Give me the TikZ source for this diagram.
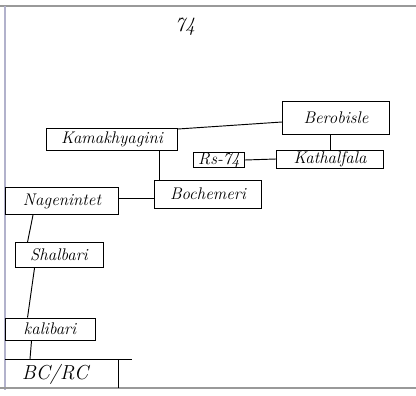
\documentclass[tikz,border=0pt]{standalone}
\usepackage{tikz}

\tikzset{
  place/.style={draw, thick, inner sep=0pt, font=\Large\itshape},
  link/.style={thick},
}

\begin{document}
\begin{tikzpicture}[x=0.03cm,y=-0.03cm]
  \useasboundingbox (0,0) rectangle (416,396);
  % frame of the sheet
  \draw[gray!80, line width=1.5pt] (0,6) -- (416,6);
  \draw[blue!20!gray!50, line width=1.5pt] (5,6) -- (5,390);
  \draw[gray!80, line width=1.5pt] (0,388) -- (416,388);
  \node[font=\LARGE\itshape] (title) at (185,27) {74};

  \node[place, minimum width=3.93cm, minimum height=0.66cm] (kama) at (112,139) {Kamakhyagini};
  \node[place, minimum width=3.21cm, minimum height=0.99cm] (bero) at (336,118) {Berobisle};
  \node[place, minimum width=3.21cm, minimum height=0.54cm] (kath) at (330,159) {Kathalfala};
  \node[place, minimum width=1.53cm, minimum height=0.45cm] (rs) at (219,160) {Rs-74};
  \node[place, minimum width=3.21cm, minimum height=0.84cm] (boch) at (208,194) {Bochemeri};
  \node[place, minimum width=3.39cm, minimum height=0.81cm] (nag) at (62,201) {Nagenintet};
  \node[place, minimum width=2.64cm, minimum height=0.75cm] (shal) at (59,255) {Shalbari};
  \node[place, minimum width=2.7cm, minimum height=0.66cm] (kali) at (50,329) {kalibari};
  \node[font=\LARGE\itshape] (bcrc) at (55,374) {BC/RC};

  \draw[link] ([yshift=0.3cm]kama.east) -- ([yshift=-0.12cm]bero.west);
  \draw[link] (kath.north) -- (kath.north |- bero.south);
  \draw[link] (rs.east) -- (kath.west);
  \draw[link] ([xshift=0.15cm]boch.north west) -- ([xshift=0.15cm]boch.north west |- kama.south);
  \draw[link] ([yshift=-0.12cm]boch.west) -- ([yshift=0.09cm]nag.east);
  \draw[link] ([xshift=0.84cm]nag.south west) -- ([xshift=0.39cm]shal.north west);
  \draw[link] ([xshift=0.6cm]shal.south west) -- ([xshift=0.69cm]kali.north west);
  \coordinate (base) at (30,359);
  \draw[link] ([xshift=0.81cm]kali.south west) -- (base);
  \draw[link] (5,359) -- (132,359);
  \draw[link] (118,359) -- (118,388);
\end{tikzpicture}
\end{document}
